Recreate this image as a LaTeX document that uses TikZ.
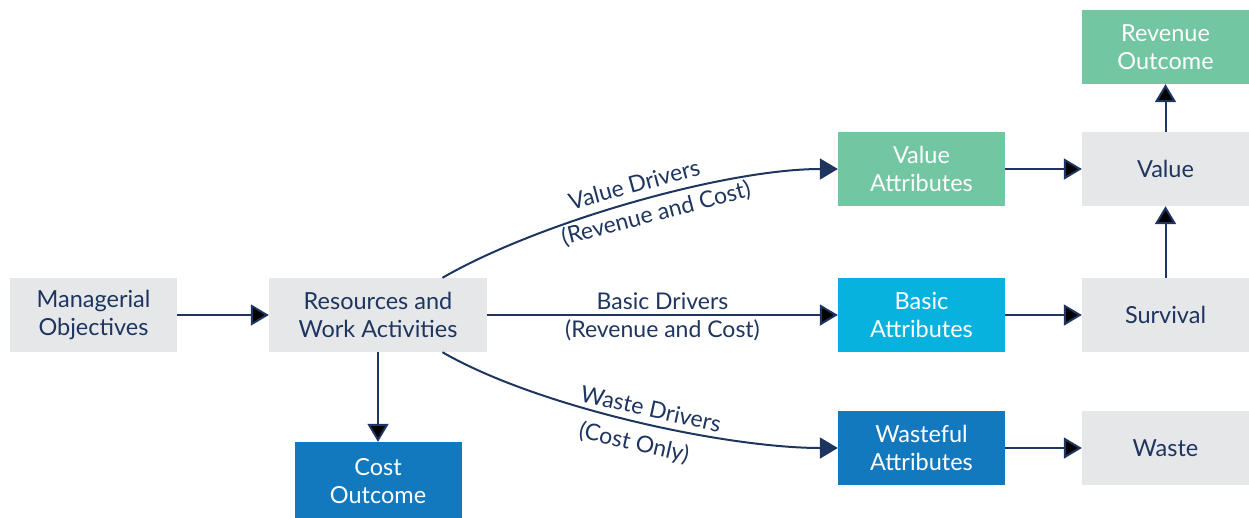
\documentclass[tikz,border=0pt]{standalone}
\usepackage{fontspec}
\setmainfont{Lato}
\usetikzlibrary{arrows.meta,positioning}
\definecolor{navy}{HTML}{1E3560}
\definecolor{boxgray}{HTML}{E6E7E8}
\definecolor{valgreen}{HTML}{72C6A1}
\definecolor{basiccyan}{HTML}{08B2DE}
\definecolor{costblue}{HTML}{1379BF}

\begin{document}
\begin{tikzpicture}[node distance=2cm,on grid,
	block/.style={rectangle, inner sep=0pt, minimum width=167pt, minimum height=74pt, align=center, font=\fontsize{23.5}{28}\selectfont},
	graybox/.style={block, fill=boxgray, text=navy},
	greenbox/.style={block, fill=valgreen, text=white},
	cyanbox/.style={block, fill=basiccyan, text=white},
	bluebox/.style={block, fill=costblue, text=white},
	lbl/.style={font=\fontsize{23}{27}\selectfont, text=navy, inner sep=4pt},
	arr/.style={-{Triangle[length=18pt,width=21pt]}, draw=navy, line width=2pt}]
		\useasboundingbox (0,0) rectangle (1249pt,-517pt);
		\node[graybox] (mo) at (93.5pt,-315pt) {Managerial\\Objectives};
		\node[graybox] (rw) [node distance=284.5pt,right=of mo,minimum width=218pt]{Resources and\\Work Activities};
		\node[bluebox] (co) [node distance=166pt,below=of rw,minimum height=78pt]{Cost\\Outcome};
		\node[cyanbox] (ba) [node distance=543.5pt,right=of rw]{Basic\\Attributes};
		\node[greenbox] (va) [node distance=146pt,above=of ba]{Value\\Attributes};
		\node[bluebox] (wa) [node distance=133pt,below=of ba]{Wasteful\\Attributes};
		\node[graybox] (su) [node distance=244pt,right=of ba]{Survival};
		\node[graybox] (vl) [node distance=244pt,right=of va]{Value};
		\node[graybox] (ws) [node distance=244pt,right=of wa]{Waste};
		\node[greenbox] (ro) [node distance=122pt,above=of vl]{Revenue\\Outcome};
		\path[arr]
			(mo) edge (rw)
			(rw) edge (co)
			(rw) edge node[lbl,above] {Basic Drivers} node[lbl,below] {(Revenue and Cost)} (ba)
			(va) edge (vl)
			(ba) edge (su)
			(wa) edge (ws)
			(su) edge (vl)
			(vl) edge (ro);
		% curved drivers
		\draw[arr] (rw.30) to[out=30,in=180,looseness=0.7]
			node[lbl,sloped,above,pos=0.51,inner sep=8pt] {Value Drivers}
			node[lbl,sloped,below,pos=0.54,inner sep=5pt] {(Revenue and Cost)} (va.west);
		\draw[arr] (rw.-30) to[out=-30,in=180,looseness=0.7]
			node[lbl,sloped,above,pos=0.53,inner sep=6pt] {Waste Drivers}
			node[lbl,sloped,below,pos=0.51,inner sep=10pt] {(Cost Only)} (wa.west);
	\end{tikzpicture}
\end{document}
